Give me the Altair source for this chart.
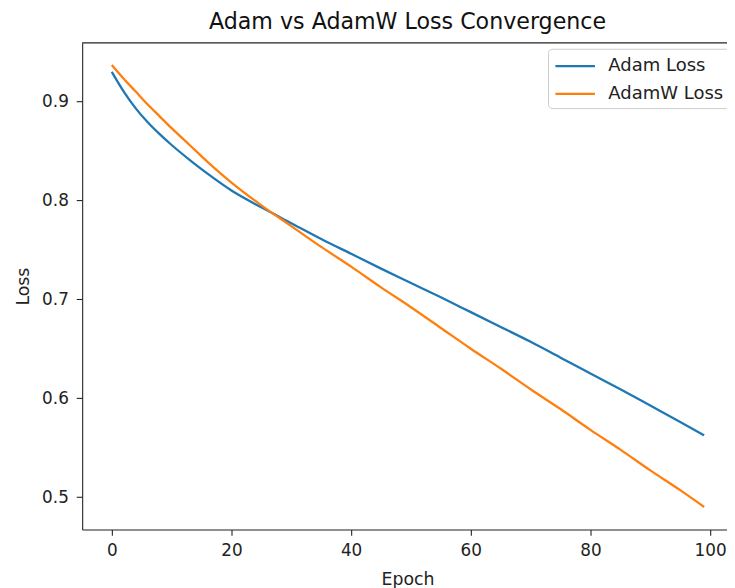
import altair as alt
import pandas as pd

# ---- data ----
epochs = [0, 2, 4, 6, 8, 10, 13, 16, 20, 25, 30, 35, 40, 45, 50, 55, 60, 65, 70, 75, 80, 85, 90, 95, 99]
adam_loss = [0.930, 0.910, 0.893, 0.879, 0.867, 0.856, 0.841, 0.827, 0.810, 0.793, 0.777, 0.761, 0.746,
             0.731, 0.7165, 0.702, 0.687, 0.672, 0.657, 0.641, 0.625, 0.609, 0.5925, 0.576, 0.5625]
adamw_loss = [0.937, 0.923, 0.910, 0.897, 0.885, 0.873, 0.856, 0.839, 0.818, 0.795, 0.774, 0.753, 0.733,
              0.712, 0.692, 0.671, 0.650, 0.630, 0.609, 0.589, 0.568, 0.548, 0.527, 0.507, 0.490]
series_names = ["Adam Loss", "AdamW Loss"]
series_colors = ["#1f77b4", "#ff7f0e"]
x_ticks = [0, 20, 40, 60, 80, 100]
y_ticks = [0.5, 0.6, 0.7, 0.8, 0.9]
title_text = "Adam vs AdamW Loss Convergence"

df = pd.DataFrame({
    "Epoch": epochs + epochs,
    "Loss": adam_loss + adamw_loss,
    "Series": [series_names[0]] * len(epochs) + [series_names[1]] * len(epochs),
})

W = 652
H = 492
FONT = "DejaVu Sans"

lines = alt.Chart(df).mark_line(strokeWidth=2.3, interpolate="monotone").encode(
    x=alt.X("Epoch:Q",
            scale=alt.Scale(domain=[-4.95, 102.82], nice=False, zero=False),
            axis=alt.Axis(values=x_ticks, title="Epoch", format="d",
                          titleX=329, titleY=51, titleBaseline="middle", titleAlign="center",
                          labelPadding=7)),
    y=alt.Y("Loss:Q",
            scale=alt.Scale(domain=[0.4673, 0.9593], nice=False, zero=False),
            axis=alt.Axis(values=y_ticks, title="Loss", format=".1f",
                          titleX=-59, titleY=246, titleBaseline="middle", titleAlign="center",
                          labelPadding=8)),
    color=alt.Color("Series:N",
                    scale=alt.Scale(domain=series_names, range=series_colors),
                    legend=alt.Legend(title=None, orient="none", legendX=471, legendY=6,
                                      symbolType="M-1,0L3,0", symbolSize=400, symbolStrokeWidth=2.3,
                                      labelFontSize=18.2, labelFont=FONT, labelColor="#222",
                                      labelOffset=32, rowPadding=8, padding=6,
                                      strokeColor="#cccccc", fillColor="rgba(255,255,255,0.8)",
                                      cornerRadius=4)),
)

top_spine = alt.Chart(alt.Data(values=[{}])).mark_rule(color="#222", strokeWidth=1.1).encode(
    x=alt.value(0), x2=alt.value(W), y=alt.value(0)
)

chart = alt.layer(lines, top_spine).properties(
    width=W,
    height=H,
    title=alt.TitleParams(title_text, fontSize=22.4, font=FONT, fontWeight="normal", color="#111",
                          anchor="middle", baseline="alphabetic", offset=12, dx=3, dy=21),
    autosize=alt.AutoSizeParams(type="none"),
    padding={"left": 75, "top": 32, "right": 0, "bottom": 56},
).configure_view(stroke=None).configure_axis(
    grid=False,
    domainColor="#222", domainWidth=1.1,
    tickColor="#222", tickWidth=1.1, tickSize=6,
    labelFont=FONT, labelFontSize=17, labelColor="#222",
    titleFont=FONT, titleFontSize=17.5, titleFontWeight="normal", titleColor="#222",
    labelFlush=False, labelOverlap=False,
)

chart.save("out.html", embed_options={"renderer": "svg", "actions": False})
